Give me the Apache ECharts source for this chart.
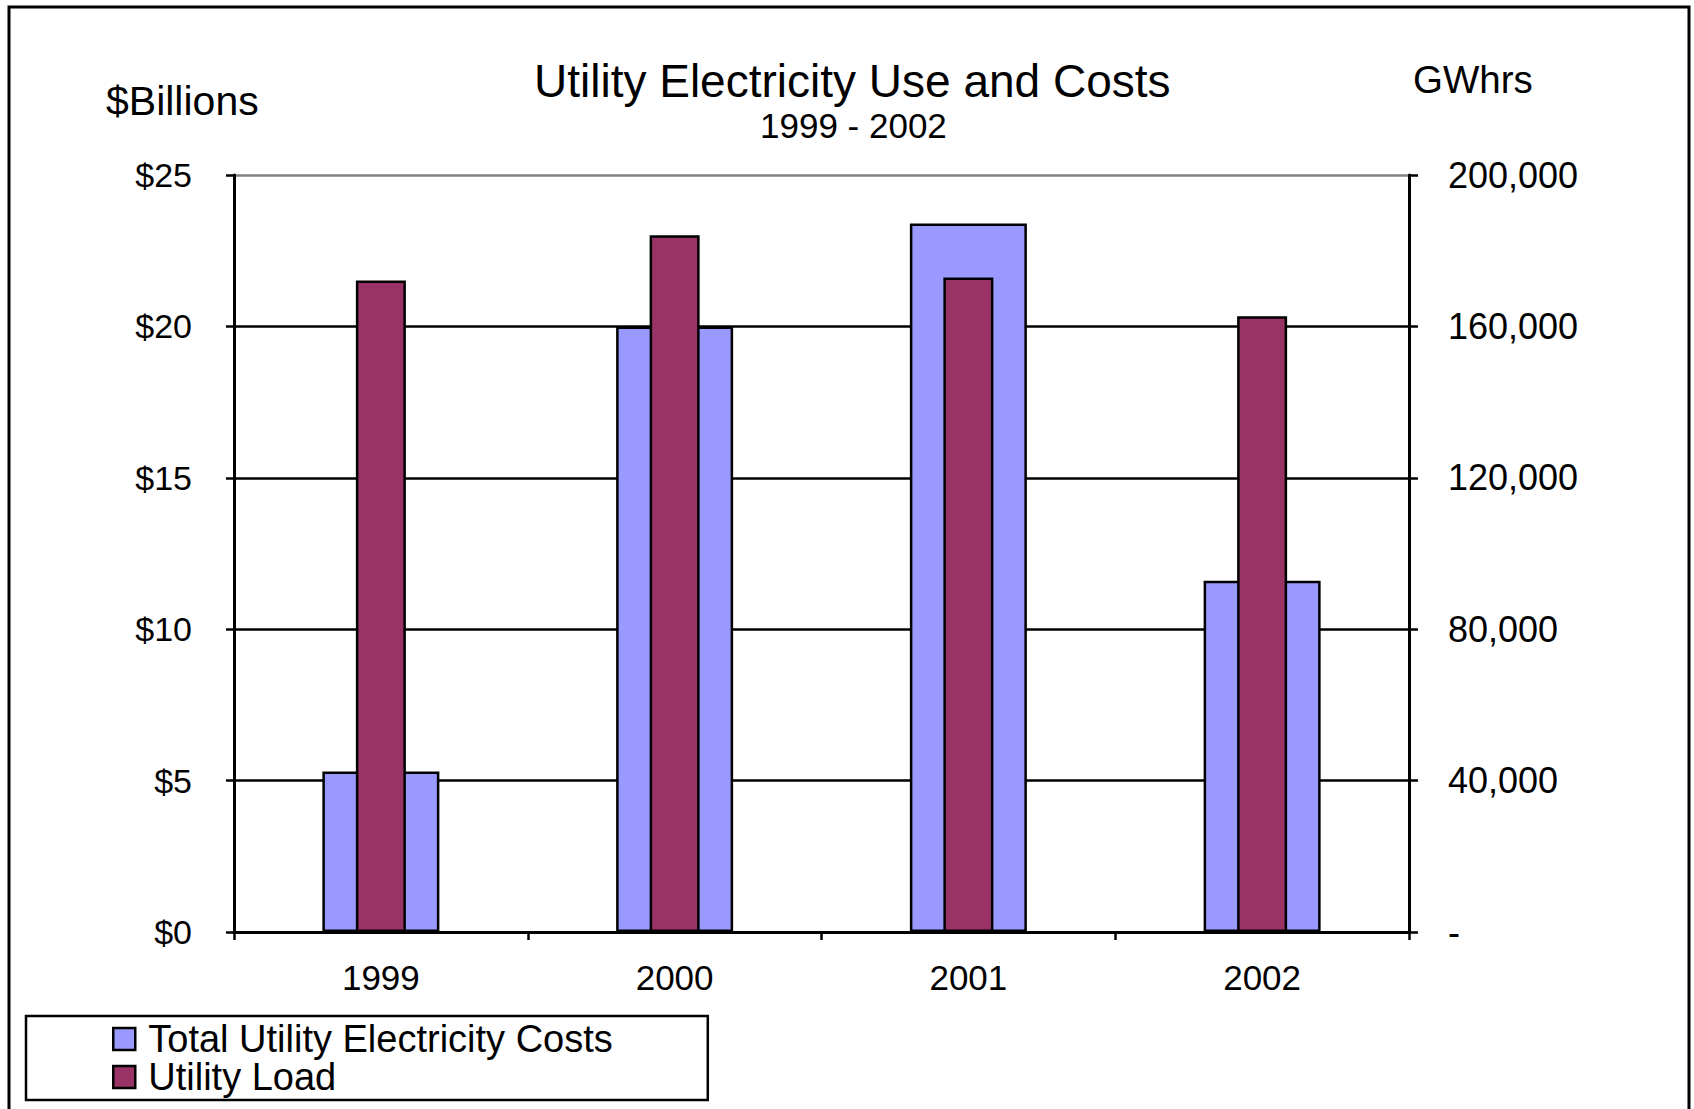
<!DOCTYPE html>
<html>
<head>
<meta charset="utf-8">
<title>Utility Electricity Use and Costs</title>
<script src="https://cdn.jsdelivr.net/npm/echarts@6/dist/echarts.min.js"></script>
<style>
  html, body { margin: 0; padding: 0; background: #fff; }
  #chart { width: 1694px; height: 1109px; }
</style>
</head>
<body>
<div id="chart"></div>
<script>
// Years shown on the category axis
const years = ['1999', '2000', '2001', '2002'];
// Total utility electricity costs, $ billions (left axis)
const costBillions = [5.3, 20.0, 23.4, 11.6];
// Utility load, GWh (right axis)
const loadGWh = [172100, 184100, 172900, 162700];

const FONT = '"Liberation Sans", Arial, sans-serif';
const BLUE = '#9999FF';
const PLUM = '#993366';

const chart = echarts.init(document.getElementById('chart'), null, { renderer: 'svg' });

const gridBox = { left: 234, top: 175, width: 1175, height: 757 };

chart.setOption({
  animation: false,
  backgroundColor: '#ffffff',
  textStyle: { fontFamily: FONT, color: '#000' },
  title: [
    {
      text: 'Utility Electricity Use and Costs',
      left: 534,
      top: 58,
      padding: 0,
      textStyle: { fontFamily: FONT, fontSize: 46, lineHeight: 46, fontWeight: 'normal', color: '#000' }
    },
    {
      text: '1999 - 2002',
      left: 760,
      top: 108,
      padding: 0,
      textStyle: { fontFamily: FONT, fontSize: 35, lineHeight: 35, fontWeight: 'normal', color: '#000' }
    }
  ],
  legend: {
    orient: 'vertical',
    left: 26,
    top: 1016,
    padding: [4, 95, 4, 86],
    itemGap: 0,
    itemWidth: 22,
    itemHeight: 22,
    icon: 'rect',
    backgroundColor: '#fff',
    borderColor: '#000',
    borderWidth: 2.5,
    borderRadius: 0,
    itemStyle: { borderColor: '#000', borderWidth: 2.5 },
    textStyle: { fontFamily: FONT, fontSize: 38, lineHeight: 38, color: '#000', padding: [0, 0, 0, 8] },
    data: ['Total Utility Electricity Costs', 'Utility Load']
  },
  grid: Object.assign({}, gridBox),
  xAxis: [
    {
      type: 'category',
      data: years,
      position: 'bottom',
      axisLine: { lineStyle: { color: '#000', width: 3 } },
      axisTick: { show: true, length: 8, alignWithLabel: false, lineStyle: { color: '#000', width: 2.5 } },
      axisLabel: { fontFamily: FONT, fontSize: 35, lineHeight: 35, color: '#000', margin: 28 },
      splitLine: { show: false }
    },
    {
      // companion axis so the load bars sit centred in each year
      type: 'category',
      data: years,
      position: 'bottom',
      show: false
    }
  ],
  yAxis: [
    {
      type: 'value',
      min: 0,
      max: 25,
      interval: 5,
      position: 'left',
      axisLine: { show: true, lineStyle: { color: '#000', width: 3 } },
      axisTick: { show: true, length: 8, lineStyle: { color: '#000', width: 2.5 } },
      axisLabel: {
        fontFamily: FONT, fontSize: 34, color: '#000', margin: 42,
        formatter: v => '$' + v
      },
      splitLine: {
        show: true,
        lineStyle: { color: ['#000', '#000', '#000', '#000', '#000', '#808080'], width: 2.5 }
      }
    },
    {
      type: 'value',
      min: 0,
      max: 200000,
      interval: 40000,
      position: 'right',
      axisLine: { show: true, lineStyle: { color: '#000', width: 3 } },
      axisTick: { show: true, length: 9, lineStyle: { color: '#000', width: 2.5 } },
      axisLabel: {
        fontFamily: FONT, fontSize: 36, color: '#000', margin: 39,
        formatter: v => (v === 0 ? '-' : v.toLocaleString('en-US'))
      },
      splitLine: { show: false }
    }
  ],
  series: [
    {
      name: 'Total Utility Electricity Costs',
      type: 'bar',
      xAxisIndex: 0,
      yAxisIndex: 0,
      barWidth: 117,
      data: costBillions,
      itemStyle: { color: BLUE, borderColor: '#000', borderWidth: 2.5 },
      z: 2
    },
    {
      name: 'Utility Load',
      type: 'bar',
      xAxisIndex: 1,
      yAxisIndex: 1,
      barWidth: 50,
      data: loadGWh,
      itemStyle: { color: PLUM, borderColor: '#000', borderWidth: 2.5 },
      z: 3
    }
  ],
  graphic: [
    {
      type: 'rect',
      silent: true,
      shape: { x: 9, y: 7, width: 1680, height: 1120 },
      style: { fill: 'none', stroke: '#000', lineWidth: 3 },
      z: 100
    },
    {
      type: 'text',
      left: 106,
      top: 80,
      style: { text: '$Billions', font: '41px ' + FONT, fill: '#000' }
    },
    {
      type: 'text',
      left: 1413,
      top: 60,
      style: { text: 'GWhrs', font: '38.5px ' + FONT, fill: '#000' }
    }
  ]
});
</script>
</body>
</html>
